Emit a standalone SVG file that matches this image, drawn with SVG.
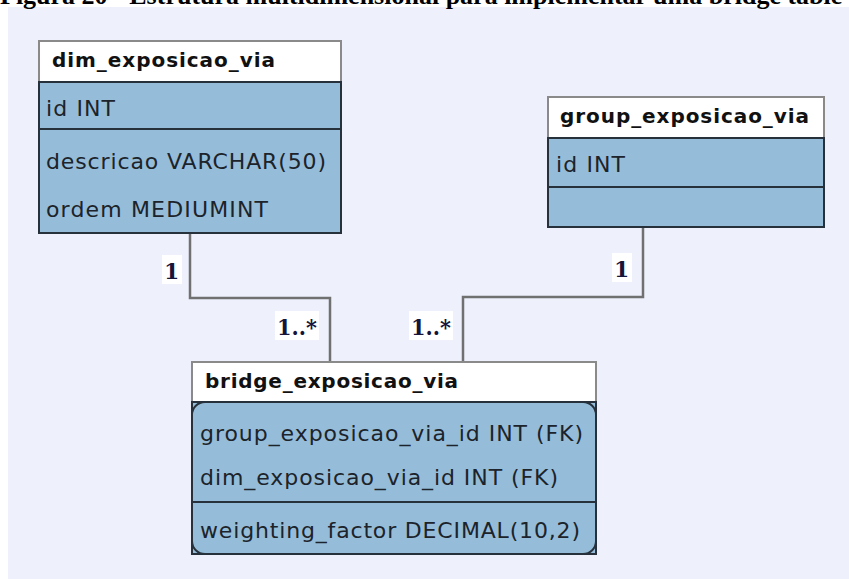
<svg xmlns="http://www.w3.org/2000/svg" width="849" height="579" viewBox="0 0 849 579">
<style>
.bg{fill:#EEF0FC}
.hdr{fill:#FFFFFF;stroke:#8a8a8a;stroke-width:2}
.body{fill:#95BDD9;stroke:#27313b;stroke-width:2}
.sep{stroke:#27313b;stroke-width:2}
.ht{font-family:"DejaVu Sans",sans-serif;font-weight:bold;font-size:20px;fill:#111}
.ft{font-family:"DejaVu Sans",sans-serif;font-size:22px;fill:#1c232a}
.conn{fill:none;stroke:#707070;stroke-width:2.5}
.lblbg{fill:#FFFFFF}
.lbl{font-family:"DejaVu Serif",serif;font-weight:bold;font-size:22px;fill:#15153a}
.cap{font-family:"Liberation Serif",serif;font-weight:bold;font-size:26px;fill:#000}
</style>
<rect class="bg" x="8" y="7" width="841" height="572"/>
<text class="cap" x="0" y="4">Figura 20 - Estrutura multidimensional para implementar uma bridge table</text>

<g id="connectors">
<path class="conn" d="M190,233 V298 H330 V361"/>
<path class="conn" d="M643,228 V297 H463 V361"/>
<rect class="lblbg" x="162" y="255" width="20" height="29"/>
<text class="lbl" x="164" y="279">1</text>
<rect class="lblbg" x="275" y="311" width="44" height="29"/>
<text class="lbl" x="277" y="335" textLength="40" lengthAdjust="spacingAndGlyphs">1..*</text>
<rect class="lblbg" x="409" y="311" width="44" height="29"/>
<text class="lbl" x="411" y="335" textLength="40" lengthAdjust="spacingAndGlyphs">1..*</text>
<rect class="lblbg" x="612" y="253" width="20" height="29"/>
<text class="lbl" x="614" y="277">1</text>
</g>

<g id="dim_exposicao_via">
<rect class="hdr" x="39" y="41" width="302" height="41"/>
<rect class="body" x="39" y="82" width="302" height="151"/>
<line class="sep" x1="39" y1="129" x2="341" y2="129"/>
<text class="ht" x="52" y="67" textLength="223" lengthAdjust="spacing">dim_exposicao_via</text>
<text class="ft" x="46" y="116" textLength="69" lengthAdjust="spacing">id INT</text>
<text class="ft" x="46" y="169" textLength="280" lengthAdjust="spacing">descricao VARCHAR(50)</text>
<text class="ft" x="46" y="217" textLength="222" lengthAdjust="spacing">ordem MEDIUMINT</text>
</g>

<g id="group_exposicao_via">
<rect class="hdr" x="548" y="97" width="276" height="41"/>
<rect class="body" x="548" y="138" width="276" height="89"/>
<line class="sep" x1="548" y1="187" x2="824" y2="187"/>
<text class="ht" x="560" y="123" textLength="249" lengthAdjust="spacing">group_exposicao_via</text>
<text class="ft" x="556" y="172" textLength="69" lengthAdjust="spacing">id INT</text>
</g>

<g id="bridge_exposicao_via">
<rect class="hdr" x="192" y="362" width="404" height="40"/>
<rect class="body" x="192" y="402" width="404" height="152"/>
<rect class="body" x="192" y="402" width="404" height="152" rx="13" ry="13"/>
<line class="sep" x1="192" y1="502" x2="596" y2="502"/>
<text class="ht" x="205" y="388" textLength="253" lengthAdjust="spacing">bridge_exposicao_via</text>
<text class="ft" x="200" y="441" textLength="383" lengthAdjust="spacing">group_exposicao_via_id INT (FK)</text>
<text class="ft" x="200" y="485" textLength="358" lengthAdjust="spacing">dim_exposicao_via_id INT (FK)</text>
<text class="ft" x="200" y="538" textLength="380" lengthAdjust="spacing">weighting_factor DECIMAL(10,2)</text>
</g>
</svg>
